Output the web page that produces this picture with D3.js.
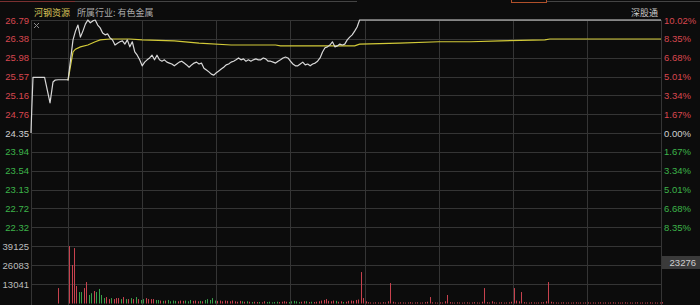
<!DOCTYPE html>
<html>
	<head>
		<meta charset="utf-8">
		<title>分时图</title>
		<script src="https://d3js.org/d3.v7.min.js"></script>
		<style type="text/css">
			body { margin: 0; background: #0c0c0c; }
			svg { display: block; }
			.lbl { font-family: "Liberation Sans", Arial, sans-serif; font-size: 9.5px; }
			.cjk { font-family: "Noto Sans CJK SC", sans-serif; font-size: 9px; }
		</style>
	</head>
	<body>
		<script type="text/javascript">

			//数据
			var stockName = '河钢资源';
			var industry = '所属行业: 有色金属';
			var preClose = 24.35;
			var limitPct = 10.02;

			var priceTicks = [26.79, 26.38, 25.98, 25.57, 25.16, 24.76, 24.35, 23.94, 23.54, 23.13, 22.72, 22.32];
			var pctTicks = [10.02, 8.35, 6.68, 5.01, 3.34, 1.67, 0, -1.67, -3.34, -5.01, -6.68, -8.35];
			var volTicks = [39125, 26083, 13041];
			var curVol = 23276;

			//集合竞价 (分钟, 相对9:30)
			var auctionT = [-15, -14.7, -14.2, -9.5, -7.3, -6.1, -5.3, -4, 0];
			var auctionP = [24.35, 24.85, 25.55, 25.55, 25.00, 25.45, 25.49, 25.50, 25.50];
			var auctionVolT = [-4.5];
			var auctionVol = [10500];

			//分时价格
			var minT = [0,1,2,3,4,5,6,7,8,9,10,11,12,13,14,15,16,17,18,19,20,21,22,23,24,25,26,27,28,29,
				30,31,32,33,34,35,36,37,38,39,40,41,42,43,44,45,46,47,48,49,50,51,52,53,54,55,56,57,58,59,
				60,61,62,63,64,65,66,67,68,69,70,71,72,73,74,75,76,77,78,79,80,81,82,83,84,85,86,87,88,89,
				90,91,92,93,94,95,96,97,98,99,100,101,102,103,104,105,106,107,108,109,110,111,112,113,114,115,116,117,118,240];
			var minP = [25.49,25.93,26.36,26.55,26.68,26.42,26.55,26.70,26.79,26.73,26.77,26.79,26.68,26.62,26.51,26.47,26.49,26.40,26.36,26.25,
				26.29,26.32,26.34,26.27,26.36,26.21,26.32,26.10,26.03,25.93,25.80,25.88,25.93,25.97,26.03,25.93,26.03,25.93,25.90,25.93,
				25.88,25.86,25.84,25.80,25.84,25.88,25.90,25.86,25.82,25.77,25.82,25.86,25.88,25.84,25.86,25.75,25.71,25.67,25.62,25.60,
				25.65,25.69,25.73,25.77,25.82,25.84,25.88,25.90,25.93,25.97,25.93,25.95,25.90,25.93,25.90,25.93,25.95,25.93,25.93,25.97,
				25.95,25.90,25.90,25.88,25.86,25.90,25.93,25.97,25.99,25.97,25.90,25.84,25.80,25.80,25.84,25.88,25.82,25.84,25.80,25.84,
				25.86,25.90,25.97,26.10,26.19,26.21,26.25,26.32,26.21,26.23,26.27,26.25,26.27,26.36,26.42,26.47,26.55,26.64,26.79,26.79];

			//均价
			var avgT = [0,1,2,3,5,8,11,13,17,25,30,43,53,66,84,86,116,118,134,150,163,175,193,195,240];
			var avgP = [25.49,25.80,26.10,26.16,26.21,26.25,26.32,26.36,26.38,26.38,26.36,26.34,26.29,26.25,26.25,26.23,26.23,26.27,26.29,26.32,26.32,26.34,26.36,26.38,26.38];

			//成交量 (正=红, 负=绿), 0..240分钟
			var vol = [39125,26200,37700,11900,-7800,-7800,10500,14600,-5800,-7000,
				8500,-7800,-9900,-5800,-3700,4400,3000,-3700,3000,3700,
				3700,-3000,4400,-3000,3000,-3700,3000,-4400,3000,-2400,
				-3000,3700,3000,3000,3000,-2400,-2400,2000,-1800,2000,
				-2400,-1500,-2000,-1800,1500,2000,1800,-2000,-1500,-2400,
				1800,2000,1500,-1800,1500,-2400,-3000,-2400,-3700,-2000,
				1800,2000,1500,2000,1800,1500,2000,1500,1200,1800,
				-1500,1200,-1500,1200,-1000,1200,1000,-1000,800,1500,
				-1000,-1200,-800,-1000,-1200,1000,1200,1500,1200,-1000,
				-1500,-1800,-1500,-1000,1200,1500,-1500,1000,-1200,1000,
				1200,1500,2000,2400,3000,1800,1500,2000,-1800,1200,
				1500,-1000,1200,1800,2000,1800,2400,2700,21400,3700,
				1500,900,700,600,800,700,600,900,700,1500,
				13900,1200,700,600,800,700,600,700,900,600,
				700,800,600,700,900,1200,4400,800,700,600,
				800,700,1500,5800,900,700,600,800,700,600,
				700,800,600,700,900,700,600,1200,10500,900,
				700,1500,800,600,700,800,600,700,800,1200,
				10500,2000,1500,7800,900,700,600,800,700,600,
				700,800,900,1500,14600,1200,800,700,600,700,
				800,600,700,600,700,800,600,700,600,700,
				800,600,700,600,700,800,600,700,600,700,
				800,600,700,600,700,800,600,700,600,700,
				800,600,700,600,700,800,600,700,600,700,900];

			var gridTimes = [-15, 0, 30, 60, 90, 120, 150, 180, 210, 240];

			//尺寸
			var svgWidth = 700;
			var svgHeight = 305;
			var left = 31, right = 661;
			var priceTop = 20, priceBottom = 246;
			var volBottom = 303.5;

			var red = '#d9474f';
			var green = '#3cb44a';
			var barRed = '#c8424e';
			var barGreen = '#3a9e4a';

			var svg = d3.select('body')
				.append('svg')
				.attr('width', svgWidth)
				.attr('height', svgHeight);

			svg.append('rect')
				.attr('width', svgWidth)
				.attr('height', svgHeight)
				.attr('fill', '#0c0c0c');

			//比例尺
			var xScale = d3.scaleLinear()
				.domain([-15, 240])
				.range([left, right]);

			var yPct = d3.scaleLinear()
				.domain([-limitPct, limitPct])
				.range([priceBottom, priceTop]);

			var yPrice = d3.scaleLinear()
				.domain([preClose * (1 - limitPct / 100), preClose * (1 + limitPct / 100)])
				.range([priceBottom, priceTop]);

			var yVol = d3.scaleLinear()
				.domain([0, volTicks[0]])
				.range([volBottom, priceBottom]);

			//顶部标签栏
			var tabBar = svg.append('g').attr('stroke-width', 1).attr('fill', 'none');
			tabBar.append('line').attr('x1', 0).attr('x2', 75).attr('y1', 1.5).attr('y2', 1.5).attr('stroke', '#7a3030');
			tabBar.append('line').attr('x1', 75).attr('x2', 357).attr('y1', 1.5).attr('y2', 1.5).attr('stroke', '#444');
			tabBar.append('line').attr('x1', 547).attr('x2', 700).attr('y1', 1.5).attr('y2', 1.5).attr('stroke', '#444');
			tabBar.append('rect').attr('x', 511.5).attr('y', -2).attr('width', 35).attr('height', 4.5).attr('stroke', '#b0502a');

			//网格
			var grid = svg.append('g').attr('stroke', '#353535').attr('stroke-width', 1);

			grid.selectAll('line.h')
				.data(pctTicks.concat([-limitPct]))
				.enter()
				.append('line')
				.attr('x1', left).attr('x2', right)
				.attr('y1', function(d) { return Math.round(yPct(d)) + 0.5; })
				.attr('y2', function(d) { return Math.round(yPct(d)) + 0.5; });

			grid.selectAll('line.v')
				.data(volTicks.slice(1))
				.enter()
				.append('line')
				.attr('x1', left).attr('x2', right)
				.attr('y1', function(d) { return Math.round(yVol(d)) + 0.5; })
				.attr('y2', function(d) { return Math.round(yVol(d)) + 0.5; });

			grid.selectAll('line.t')
				.data(gridTimes)
				.enter()
				.append('line')
				.attr('x1', function(d) { return Math.round(xScale(d)) + 0.5; })
				.attr('x2', function(d) { return Math.round(xScale(d)) + 0.5; })
				.attr('y1', priceTop)
				.attr('y2', svgHeight);

			//成交量柱
			var bars = [];
			vol.forEach(function(v, i) { bars.push({ t: i, v: v }); });
			auctionVol.forEach(function(v, i) { bars.push({ t: auctionVolT[i], v: v }); });

			svg.append('g')
				.selectAll('rect')
				.data(bars)
				.enter()
				.append('rect')
				.attr('x', function(d) { return Math.round(xScale(d.t)) + 1; })
				.attr('width', 1)
				.attr('y', function(d) { return yVol(Math.abs(d.v)); })
				.attr('height', function(d) { return volBottom - yVol(Math.abs(d.v)); })
				.attr('fill', function(d) { return d.v >= 0 ? barRed : barGreen; });

			//均价线
			var avgLine = d3.line()
				.x(function(d, i) { return xScale(avgT[i]); })
				.y(function(d) { return yPrice(d); });

			svg.append('path')
				.datum(avgP)
				.attr('d', avgLine)
				.attr('fill', 'none')
				.attr('stroke', '#d2ca38')
				.attr('stroke-width', 1.2);

			//价格线
			var priceT = auctionT.concat(minT);
			var priceP = auctionP.concat(minP);
			var priceLine = d3.line()
				.x(function(d, i) { return xScale(priceT[i]); })
				.y(function(d) { return yPrice(d); });

			svg.append('path')
				.datum(priceP)
				.attr('d', priceLine)
				.attr('fill', 'none')
				.attr('stroke', '#d8d8d8')
				.attr('stroke-width', 1.2)
				.attr('stroke-linejoin', 'round');

			//左侧价格刻度
			var yAxisL = d3.axisLeft(yPct)
				.tickValues(pctTicks)
				.tickSize(0)
				.tickPadding(0)
				.tickFormat(function(d, i) { return priceTicks[i].toFixed(2); });

			var gL = svg.append('g')
				.attr('class', 'lbl')
				.attr('transform', 'translate(' + (left - 2) + ',0)')
				.call(yAxisL);
			gL.select('.domain').remove();
			gL.selectAll('text')
				.attr('fill', function(d) { return d > 0 ? red : (d < 0 ? green : '#d0d0d0'); });

			//右侧涨跌幅刻度
			var yAxisR = d3.axisRight(yPct)
				.tickValues(pctTicks)
				.tickSize(0)
				.tickPadding(0)
				.tickFormat(function(d) { return Math.abs(d).toFixed(2) + '%'; });

			var gR = svg.append('g')
				.attr('class', 'lbl')
				.attr('transform', 'translate(' + (right + 3) + ',0)')
				.call(yAxisR);
			gR.select('.domain').remove();
			gR.selectAll('text')
				.attr('fill', function(d) { return d > 0 ? red : (d < 0 ? green : '#d0d0d0'); });

			//成交量刻度
			var volAxis = d3.axisLeft(yVol)
				.tickValues(volTicks)
				.tickSize(0)
				.tickPadding(0)
				.tickFormat(d3.format('d'));

			var gV = svg.append('g')
				.attr('class', 'lbl')
				.attr('transform', 'translate(' + (left - 2) + ',0)')
				.call(volAxis);
			gV.select('.domain').remove();
			gV.selectAll('text')
				.attr('fill', '#bdbdbd');

			[gL, gR, gV].forEach(function(g) {
				g.attr('font-family', null).attr('font-size', null);
			});

			//当前量标签
			svg.append('rect')
				.attr('x', right + 1)
				.attr('y', 256)
				.attr('width', svgWidth - right - 1)
				.attr('height', 13)
				.attr('fill', '#3a3a3a');
			svg.append('text')
				.attr('class', 'lbl')
				.attr('x', svgWidth - 4)
				.attr('y', 262.5)
				.attr('dy', '0.35em')
				.attr('text-anchor', 'end')
				.attr('fill', '#cfcfcf')
				.text(curVol);

			//标题
			svg.append('text')
				.attr('class', 'cjk')
				.attr('x', 34)
				.attr('y', 16)
				.attr('fill', '#d8c45a')
				.text(stockName);
			svg.append('text')
				.attr('class', 'cjk')
				.attr('x', 77)
				.attr('y', 16)
				.attr('fill', '#a8a8a8')
				.text(industry);
			svg.append('text')
				.attr('class', 'cjk')
				.attr('x', 658)
				.attr('y', 16)
				.attr('text-anchor', 'end')
				.attr('fill', '#c8c8c8')
				.text('深股通');

			//十字关闭标记
			svg.append('path')
				.attr('d', 'M34,23L39,28M39,23L34,28')
				.attr('stroke', '#8a8a8a')
				.attr('stroke-width', 1);

		</script>
	</body>
</html>
